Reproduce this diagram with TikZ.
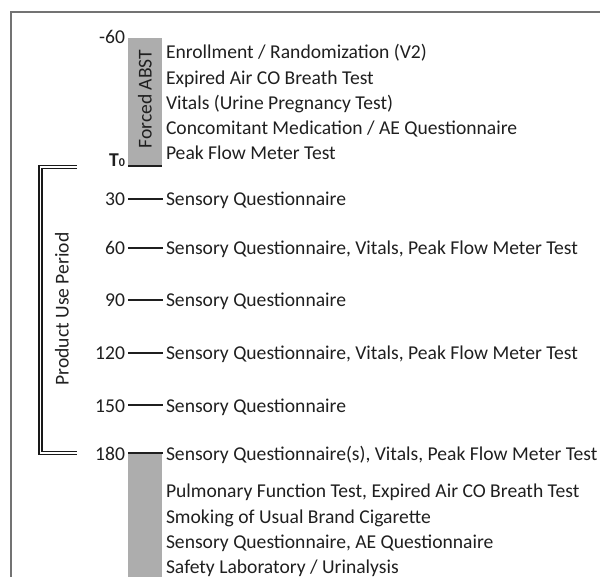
\documentclass[tikz,border=0pt]{standalone}
\usepackage{fontspec}
\setmainfont{Carlito}
\begin{document}
\begin{tikzpicture}[x=1pt,y=-1pt,
  every node/.style={inner sep=0pt,outer sep=0pt,font=\fontsize{19.6}{23}\selectfont,text=black!88},
  lab/.style={anchor=base west},
  num/.style={anchor=base east},
  tick/.style={line width=1.8pt,draw=black!88},
  bar/.style={fill=black!32,draw=none}]
\useasboundingbox (0,0) rectangle (600,577);
% frame
\draw[draw=black!55,line width=1.2pt] (11,577) -- (11,12) -- (600,12);
% gray bars
\fill[bar] (128,38) rectangle (162,166);
\fill[bar] (128,453) rectangle (162,577);
\node[rotate=90] (fab) at (145,99) {Forced ABST};
% top texts
\node[lab] (e1) at (166,59) {Enrollment / Randomization (V2)};
\node[lab] (e2) at (166,85) {Expired Air CO Breath Test};
\node[lab] (e3) at (166,110) {Vitals (Urine Pregnancy Test)};
\node[lab] (e4) at (166,135) {Concomitant Medication / AE Questionnaire};
\node[lab] (e5) at (166,160) {Peak Flow Meter Test};
\node[num] (m60) at (125,44) {-60};
\node[num] (t0) at (125,167) {\bfseries T{\fontsize{12}{14}\selectfont 0}};
% timepoints
\foreach \v/\y/\t in {30/199/{Sensory Questionnaire},
  60/248/{Sensory Questionnaire, Vitals, Peak Flow Meter Test},
  90/300/{Sensory Questionnaire},
  120/353/{Sensory Questionnaire, Vitals, Peak Flow Meter Test},
  150/405/{Sensory Questionnaire},
  180/453/{Sensory Questionnaire(s), Vitals, Peak Flow Meter Test}}{
  \node[num] (n\v) at (125,\y+7) {\v};
  \node[lab] (s\v) at (166,\y+7) {\t};
  \coordinate (k\v) at (128,\y);
  \coordinate (ke\v) at (163,\y);
  \draw[tick] (k\v) -- (ke\v);
}
\coordinate (k0) at (128,166);
\coordinate (k0e) at (162,166);
\draw[tick] (k0) -- (k0e);
% bottom texts
\node[lab] (b1) at (166,497) {Pulmonary Function Test, Expired Air CO Breath Test};
\node[lab] (b2) at (166,523) {Smoking of Usual Brand Cigarette};
\node[lab] (b3) at (166,548) {Sensory Questionnaire, AE Questionnaire};
\node[lab] (b4) at (166,573) {Safety Laboratory / Urinalysis};
% bracket
\coordinate (bt) at (77,167);
\coordinate (bb) at (77,453);
\draw[double=white,double distance=1.4pt,line width=1.5pt,draw=black!90] (bt) -- (40.5,167) -- (40.5,453) -- (bb);
\node[rotate=90] (pup) at (62,309) {Product Use Period};
\end{tikzpicture}
\end{document}
